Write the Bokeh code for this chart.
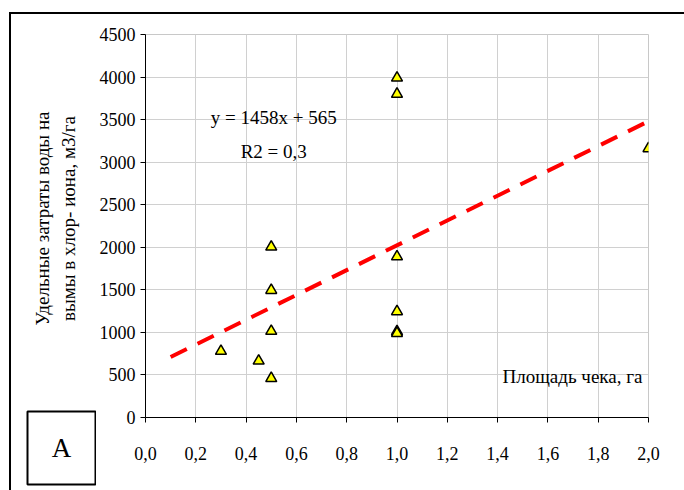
import math
from bokeh.plotting import figure
from bokeh.layouts import row
from bokeh.models import Range1d, FixedTicker, Label, BoxAnnotation
from bokeh.embed import file_html
from bokeh.resources import INLINE

# Field data: check area (ha) vs specific water use for chloride leaching (m3/ha)
x_area = [0.3, 0.45, 0.5, 0.5, 0.5, 0.5, 1.0, 1.0, 1.0, 1.0, 1.0, 1.0, 2.0]
y_water = [780, 665, 460, 1015, 1495, 2005, 3990, 3800, 1890, 1245, 1010, 990, 3160]

# Linear trend y = 1458x + 565, R2 = 0,3
trend_slope = 1458
trend_intercept = 565
trend_x = [0.1, 2.0]
trend_y = [trend_slope * x + trend_intercept for x in trend_x]

x_ticks = [0.0, 0.2, 0.4, 0.6, 0.8, 1.0, 1.2, 1.4, 1.6, 1.8, 2.0]
x_tick_labels = ["0,0", "0,2", "0,4", "0,6", "0,8", "1,0", "1,2", "1,4", "1,6", "1,8", "2,0"]
y_ticks = [0, 500, 1000, 1500, 2000, 2500, 3000, 3500, 4000, 4500]
y_tick_labels = ["0", "500", "1000", "1500", "2000", "2500", "3000", "3500", "4000", "4500"]

y_title_lines = ["Удельные затраты воды на", "вымы в хлор- иона, м3/га"]

FONT = "Liberation Serif"
H = 476            # height of both panels
SIDE_W = 85        # width of the side panel holding the axis title and the letter box

# ---- main chart ---------------------------------------------------------
p = figure(width=588, height=H, output_backend="svg", toolbar_location=None,
           x_range=Range1d(0, 2), y_range=Range1d(0, 4500),
           min_border_left=49, min_border_right=36,
           min_border_top=20, min_border_bottom=73)
p.frame_align = False

p.background_fill_color = "white"
p.border_fill_color = "white"
p.outline_line_color = "#c8c8c8"
p.outline_line_width = 1

for ax in (p.xaxis[0], p.yaxis[0]):
    ax.axis_line_color = "black"
    ax.axis_line_width = 1
    ax.major_tick_line_color = "black"
    ax.major_tick_in = 0
    ax.major_tick_out = 5
    ax.minor_tick_line_color = None
    ax.major_label_text_font = FONT
    ax.major_label_text_font_size = "18px"
    ax.major_label_text_color = "black"

p.xaxis[0].ticker = FixedTicker(ticks=x_ticks)
p.xaxis[0].major_label_overrides = dict(zip(x_ticks, x_tick_labels))
p.xaxis[0].major_label_standoff = 24

p.yaxis[0].ticker = FixedTicker(ticks=y_ticks)
p.yaxis[0].major_label_overrides = dict(zip(y_ticks, y_tick_labels))
p.yaxis[0].major_label_standoff = 5

p.grid.grid_line_color = "#d0d0d0"
p.grid.grid_line_width = 1
p.xgrid.ticker = FixedTicker(ticks=x_ticks)
p.ygrid.ticker = FixedTicker(ticks=y_ticks)

# trend line
p.line(trend_x, trend_y, line_color="#ff0000", line_width=4, line_dash="18 12")

# observations
p.scatter(x_area, y_water, marker="triangle", size=11,
          fill_color="#ffff00", line_color="black", line_width=1.5)

# regression annotation
p.add_layout(Label(x=0.51, y=3530, text="y = 1458x + 565", text_font=FONT,
                   text_font_size="19px", text_color="black",
                   text_align="center", text_baseline="middle"))
p.add_layout(Label(x=0.51, y=3120, text="R2 = 0,3", text_font=FONT,
                   text_font_size="19px", text_color="black",
                   text_align="center", text_baseline="middle"))
p.add_layout(Label(x=1.976, y=485, text="Площадь чека, га", text_font=FONT,
                   text_font_size="19px", text_color="black",
                   text_align="right", text_baseline="middle"))

# ---- side panel: vertical axis title and boxed letter -------------------
# pixel-like coordinates: x from the panel's left edge, y up from its bottom
side = figure(width=SIDE_W, height=H, output_backend="svg", toolbar_location=None,
              title=None, x_range=Range1d(0, SIDE_W), y_range=Range1d(0, H),
              x_axis_location=None, y_axis_location=None,
              min_border_left=0, min_border_right=0,
              min_border_top=0, min_border_bottom=0)
side.frame_align = False
side.grid.visible = False
side.outline_line_color = None
side.background_fill_color = "white"
side.border_fill_color = "white"

for xpos, txt in zip([31, 57], y_title_lines):
    side.add_layout(Label(x=xpos, y=272, text=txt, angle=math.pi / 2,
                          text_font=FONT, text_font_size="19px", text_color="black",
                          text_align="center", text_baseline="middle"))

side.add_layout(BoxAnnotation(left=16, right=84, top=79, bottom=6,
                              fill_color="white", fill_alpha=1.0,
                              line_color="black", line_alpha=1.0, line_width=2))
side.add_layout(Label(x=50, y=43, text="A", text_font=FONT, text_font_size="27px",
                      text_color="black", text_align="center", text_baseline="middle"))

# page frame: a black border on the left and top of the whole panel row
page = row(side, p, spacing=0, margin=(12, 0, 0, 9),
           styles={"border-left": "2px solid black", "border-top": "2px solid black"})

open("out.html", "w").write(file_html(page, INLINE))
